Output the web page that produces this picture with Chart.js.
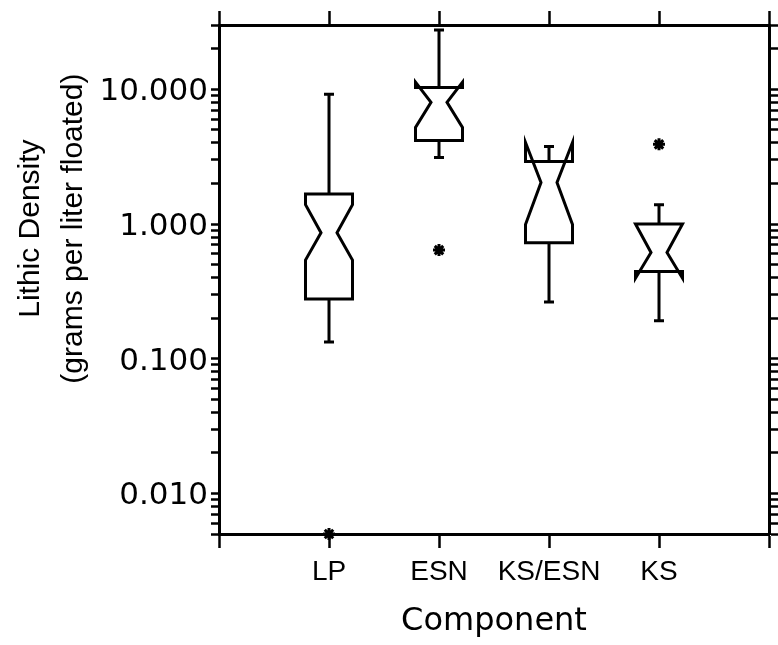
<!DOCTYPE html>
<html>
<head>
<meta charset="utf-8">
<script src="https://cdn.jsdelivr.net/npm/chart.js@4.4.1/dist/chart.umd.min.js"></script>
<style>
  html, body { margin: 0; padding: 0; background: #fff; }
</style>
</head>
<body>
<canvas id="chart" width="778" height="645"></canvas>
<script>
const categories = ['LP', 'ESN', 'KS/ESN', 'KS']
const whiskerLow = [0.133, 3.12, 0.264, 0.191]
const q1 = [0.278, 4.17, 0.726, 0.444]
const notchLow = [0.54, 5.21, 0.99, 0.396]
const median = [0.86, 8.0, 2.03, 0.615]
const notchHigh = [1.39, 11.3, 4.03, 1.0]
const q3 = [1.67, 10.3, 2.91, 1.0]
const whiskerHigh = [9.18, 27.5, 3.76, 1.39]

const outlierCategory = ['LP', 'ESN', 'KS']
const outlierValue = [0.005, 0.64, 3.9]

const decadeTicks = [0.01, 0.1, 1, 10]
const yMin = 0.005
const yMax = 30
const yTitleLines = ['Lithic Density', '(grams per liter floated)']

// minor ticks at 1..9 of every decade, like the original plot
const logTicks = []
for (let e = -3; e <= 1; e++) {
    for (let m = 1; m <= 9; m++) {
        const v = +(m * Math.pow(10, e)).toFixed(6)
        if (v >= yMin && v <= yMax) logTicks.push(v)
    }
}

const isDecade = v => decadeTicks.some(d => Math.abs(d - v) < 1e-9)

Chart.defaults.color = '#000'

// notched boxes + whiskers, drawn from the arrays through the chart scales
const notchedBoxes = {
    id: 'notchedBoxes',
    afterDatasetsDraw(chart) {
        const { ctx, scales: { x, y } } = chart
        const W = 23.5, w = 8, cap = 5
        const py = v => y.getPixelForValue(v)
        ctx.save()
        ctx.strokeStyle = '#000'
        ctx.lineWidth = 3
        ctx.lineJoin = 'miter'
        categories.forEach((c, i) => {
            const cx = x.getPixelForValue(i + 1)

            ctx.beginPath()
            ctx.moveTo(cx, py(q3[i]))
            ctx.lineTo(cx, py(whiskerHigh[i]))
            ctx.moveTo(cx - cap, py(whiskerHigh[i]))
            ctx.lineTo(cx + cap, py(whiskerHigh[i]))
            ctx.moveTo(cx, py(q1[i]))
            ctx.lineTo(cx, py(whiskerLow[i]))
            ctx.moveTo(cx - cap, py(whiskerLow[i]))
            ctx.lineTo(cx + cap, py(whiskerLow[i]))
            ctx.stroke()

            ctx.beginPath()
            ctx.moveTo(cx - W, py(q3[i]))
            ctx.lineTo(cx - W, py(notchHigh[i]))
            ctx.lineTo(cx - w, py(median[i]))
            ctx.lineTo(cx - W, py(notchLow[i]))
            ctx.lineTo(cx - W, py(q1[i]))
            ctx.lineTo(cx + W, py(q1[i]))
            ctx.lineTo(cx + W, py(notchLow[i]))
            ctx.lineTo(cx + w, py(median[i]))
            ctx.lineTo(cx + W, py(notchHigh[i]))
            ctx.lineTo(cx + W, py(q3[i]))
            ctx.closePath()
            ctx.stroke()
        })
        ctx.restore()
    }
}

const yTitle = {
    id: 'yTitle',
    afterDraw(chart) {
        const { ctx, chartArea } = chart
        const cy = chartArea.top + (chartArea.bottom - chartArea.top) * 0.4
        ctx.save()
        ctx.fillStyle = '#000'
        ctx.font = '30px "Liberation Sans"'
        ctx.textAlign = 'center'
        ctx.textBaseline = 'alphabetic'
        yTitleLines.forEach((t, i) => {
            ctx.save()
            ctx.translate(39 + i * 43, cy)
            ctx.rotate(-Math.PI / 2)
            ctx.fillText(t, 0, 0)
            ctx.restore()
        })
        ctx.restore()
    }
}

const axisGrid = len => ({
    drawOnChartArea: false,
    drawTicks: true,
    tickLength: len,
    tickWidth: 2.5,
    tickColor: '#000'
})
const axisBorder = { color: '#000', width: 3 }

new Chart(document.getElementById('chart'), {
    type: 'scatter',
    data: {
        datasets: [{
            label: 'Outliers',
            data: outlierCategory.map((c, i) => ({ x: categories.indexOf(c) + 1, y: outlierValue[i] })),
            pointStyle: 'star',
            radius: 6,
            borderWidth: 3,
            borderColor: '#000',
            backgroundColor: '#000',
            clip: false
        }]
    },
    options: {
        responsive: false,
        animation: false,
        devicePixelRatio: 1,
        layout: { padding: 0 },
        plugins: {
            legend: { display: false },
            tooltip: { enabled: false }
        },
        scales: {
            x: {
                type: 'linear',
                position: 'bottom',
                min: 0,
                max: 5,
                ticks: {
                    stepSize: 1,
                    autoSkip: false,
                    maxRotation: 0,
                    padding: 7,
                    font: { family: 'Liberation Sans', size: 28 },
                    callback: v => categories[v - 1] || ''
                },
                grid: axisGrid(14),
                border: axisBorder,
                title: {
                    display: true,
                    text: 'Component',
                    font: { family: 'DejaVu Sans', size: 32 },
                    padding: { top: 0, bottom: 4 }
                },
                afterFit: s => { s.height = 111 }
            },
            xTop: {
                type: 'linear',
                position: 'top',
                min: 0,
                max: 5,
                ticks: { stepSize: 1, display: false },
                grid: axisGrid(14),
                border: axisBorder,
                afterFit: s => { s.height = 25 }
            },
            y: {
                type: 'logarithmic',
                position: 'left',
                min: yMin,
                max: yMax,
                afterBuildTicks: s => { s.ticks = logTicks.map(v => ({ value: v, major: isDecade(v) })) },
                ticks: {
                    autoSkip: false,
                    padding: 3,
                    labelOffset: 3,
                    font: { family: 'DejaVu Sans', size: 31 },
                    callback: v => isDecade(v) ? v.toFixed(3) : ''
                },
                grid: axisGrid(8),
                border: axisBorder,
                afterFit: s => { s.width = 219 }
            },
            yRight: {
                type: 'logarithmic',
                position: 'right',
                min: yMin,
                max: yMax,
                afterBuildTicks: s => { s.ticks = logTicks.map(v => ({ value: v, major: isDecade(v) })) },
                ticks: { display: false },
                grid: axisGrid(9),
                border: axisBorder,
                afterFit: s => { s.width = 9 }
            }
        }
    },
    plugins: [notchedBoxes, yTitle]
})
</script>
</body>
</html>
